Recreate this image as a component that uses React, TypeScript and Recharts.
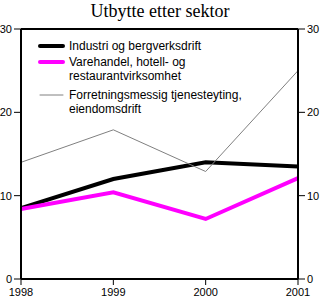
import React from 'react'
import { LineChart, Line, XAxis, YAxis, ReferenceLine } from 'recharts'

const years = ['1998', '1999', '2000', '2001']
const industri = [8.5, 12.0, 14.0, 13.5]
const varehandel = [8.4, 10.4, 7.2, 12.1]
const forretning = [14.0, 17.9, 12.9, 25.0]
const yTicks = [0, 10, 20, 30]

// both y axes share the 0-30 scale; the thin grey series is tied to the right one
const series = [
  { key: 'industri', axis: 'left', label: ['Industri og bergverksdrift'], color: '#000000', width: 4 },
  { key: 'varehandel', axis: 'left', label: ['Varehandel, hotell- og', 'restaurantvirksomhet'], color: '#ff00ff', width: 4 },
  { key: 'forretning', axis: 'right', label: ['Forretningsmessig tjenesteyting,', 'eiendomsdrift'], color: '#808080', width: 1 },
]

const data = years.map((year, i) => ({
  year,
  industri: industri[i],
  varehandel: varehandel[i],
  forretning: forretning[i],
}))

const tickFont = { fontFamily: '"Liberation Sans", Arial, sans-serif', fontSize: 11, fill: '#000' }

const LegendBox = () => (
  <div
    style={{
      position: 'absolute',
      left: 36,
      top: 39,
      fontFamily: '"Liberation Sans", Arial, sans-serif',
      fontSize: 12,
      color: '#000',
      lineHeight: '14px',
    }}
  >
    {series.map((s, i) => (
      <div key={s.key} style={{ display: 'flex', alignItems: 'flex-start', marginBottom: i === 0 ? 2 : 5 }}>
        <svg width={29} height={14} style={{ flex: 'none' }}>
          <line x1={4} x2={27} y1={7} y2={7} stroke={s.color} strokeWidth={s.width} strokeLinecap="round" />
        </svg>
        <div style={{ marginLeft: 4 }}>
          {s.label.map((t) => (
            <div key={t}>{t}</div>
          ))}
        </div>
      </div>
    ))}
  </div>
)

const App = () => {
  return (
    <div style={{ position: 'absolute', left: 0, top: 0, width: 320, height: 301, background: '#fff' }}>
      <div
        style={{
          position: 'absolute',
          left: 0,
          top: 0,
          width: 320,
          textAlign: 'center',
          fontFamily: '"Liberation Serif", "Times New Roman", serif',
          fontSize: 18,
          lineHeight: '22px',
        }}
      >
        Utbytte etter sektor
      </div>
      <LineChart width={320} height={301} data={data} margin={{ top: 29, right: 0, bottom: 0, left: 0 }}>
        <XAxis
          dataKey="year"
          height={22}
          tick={tickFont}
          tickSize={6}
          tickMargin={3}
          axisLine={{ stroke: '#000', strokeWidth: 2 }}
          tickLine={{ stroke: '#000' }}
        />
        <YAxis
          yAxisId="left"
          width={21}
          domain={[0, 30]}
          ticks={yTicks}
          tick={tickFont}
          tickSize={7}
          tickMargin={2}
          axisLine={{ stroke: '#000', strokeWidth: 2 }}
          tickLine={{ stroke: '#000' }}
        />
        <YAxis
          yAxisId="right"
          orientation="right"
          width={22}
          domain={[0, 30]}
          ticks={yTicks}
          tick={tickFont}
          tickSize={7}
          tickMargin={2}
          axisLine={{ stroke: '#000', strokeWidth: 2 }}
          tickLine={{ stroke: '#000' }}
        />
        <ReferenceLine yAxisId="left" y={30} stroke="#000" strokeWidth={2} />
        {series.map((s) => (
          <Line
            key={s.key}
            yAxisId={s.axis}
            type="linear"
            dataKey={s.key}
            stroke={s.color}
            strokeWidth={s.width}
            dot={false}
            activeDot={false}
            isAnimationActive={false}
          />
        ))}
      </LineChart>
      <LegendBox />
    </div>
  )
}

export default App
